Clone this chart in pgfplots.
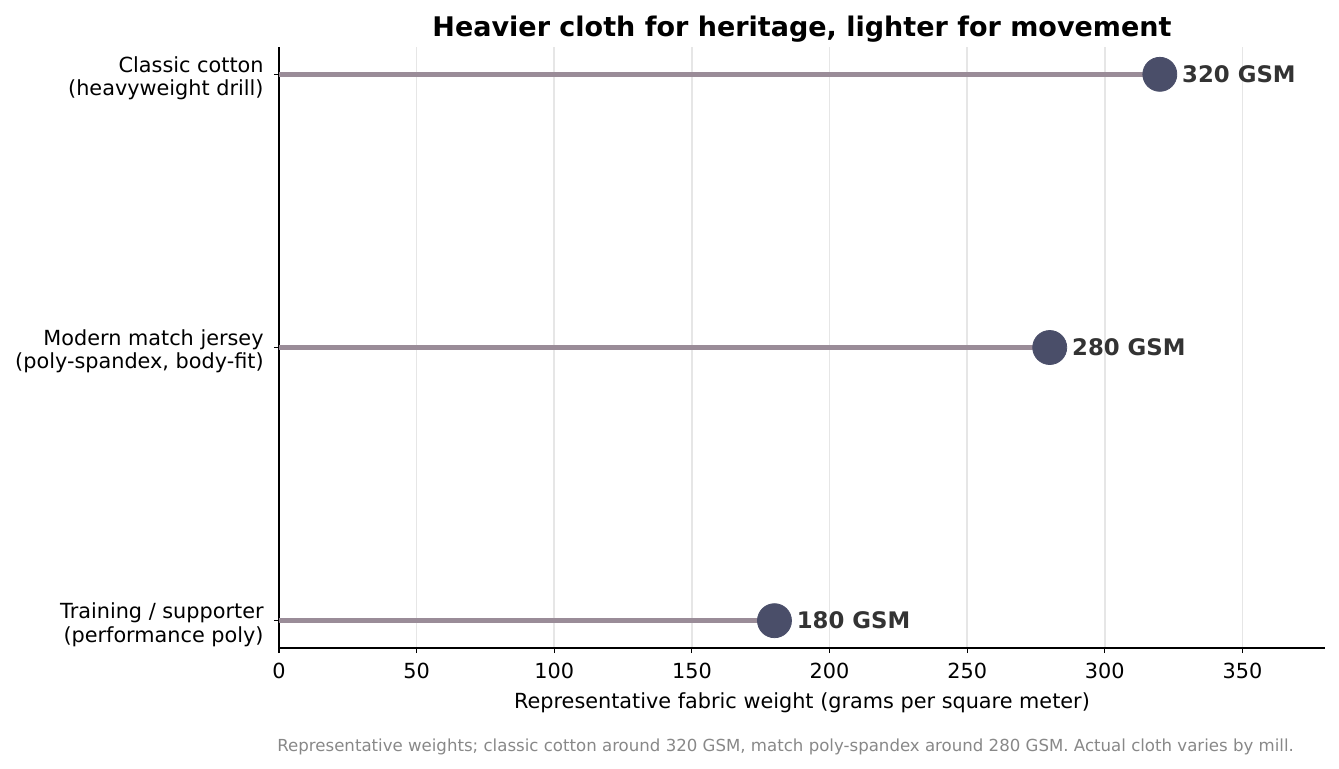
\documentclass[border=0pt]{standalone}
\usepackage{pgfplots}
\pgfplotsset{compat=1.18}
\usepackage{fontspec}
\setmainfont{DejaVu Sans}
\definecolor{stem}{HTML}{9A8C98}
\definecolor{dot}{HTML}{4A4E69}
\definecolor{lbl}{HTML}{333333}
\definecolor{note}{HTML}{888888}
\definecolor{gridc}{HTML}{E6E6E6}

\begin{document}
\begin{tikzpicture}
\begin{axis}[
    at={(0,0)}, anchor=south west,
    scale only axis,
    width=523pt, height=300.5pt,
    xmin=0, xmax=380,
    ymin=-0.1, ymax=2.1,
    xtick={0,50,...,350},
    ytick={0,1,2},
    yticklabels={{Training / supporter\\(performance poly)},
                 {Modern match jersey\\(poly-spandex, body-fit)},
                 {Classic cotton\\(heavyweight drill)}},
    yticklabel style={align=right, font=\fontsize{10.4}{11.6}\selectfont, inner sep=0pt, xshift=-5pt, yshift=-2pt},
    xticklabel style={font=\fontsize{10.4}{12}\selectfont, inner sep=0pt, yshift=-5pt},
    /pgf/number format/assume math mode=true,
    axis x line*=bottom, axis y line*=left,
    axis line style={line width=0.6pt, black},
    x axis line style={-}, y axis line style={-},
    tick align=outside,
    major tick length=2.5pt,
    tick style={line width=0.6pt, black},
    xmajorgrids, grid style={gridc, line width=0.8pt},
    title={\bfseries Heavier cloth for heritage, lighter for movement},
    title style={font=\fontsize{13.5}{15}\selectfont, yshift=-7pt},
    xlabel={Representative fabric weight (grams per square meter)},
    xlabel style={font=\fontsize{10.4}{12}\selectfont, yshift=-3pt},
    clip=false,
]
\addplot[xcomb, stem, line width=2.5pt] coordinates {(180,0) (280,1) (320,2)};
\addplot[only marks, mark=*, mark size=8.5pt, dot, mark options={draw=dot, fill=dot},
    point meta=explicit symbolic,
    nodes near coords,
    nodes near coords style={anchor=west, inner sep=0pt, xshift=11pt,
        font=\fontsize{11.4}{13}\selectfont\bfseries, text=lbl}]
    coordinates {(180,0) [180 GSM] (280,1) [280 GSM] (320,2) [320 GSM]};
\end{axis}
\node[anchor=west, inner sep=0pt, text=note, font=\fontsize{8.3}{10}\selectfont]
    at (-1pt,-49.5pt) {Representative weights; classic cotton around 320 GSM, match poly-spandex around 280 GSM. Actual cloth varies by mill.};
\path (-139.5pt,-60pt) rectangle (530pt,324pt);
\end{tikzpicture}
\end{document}
